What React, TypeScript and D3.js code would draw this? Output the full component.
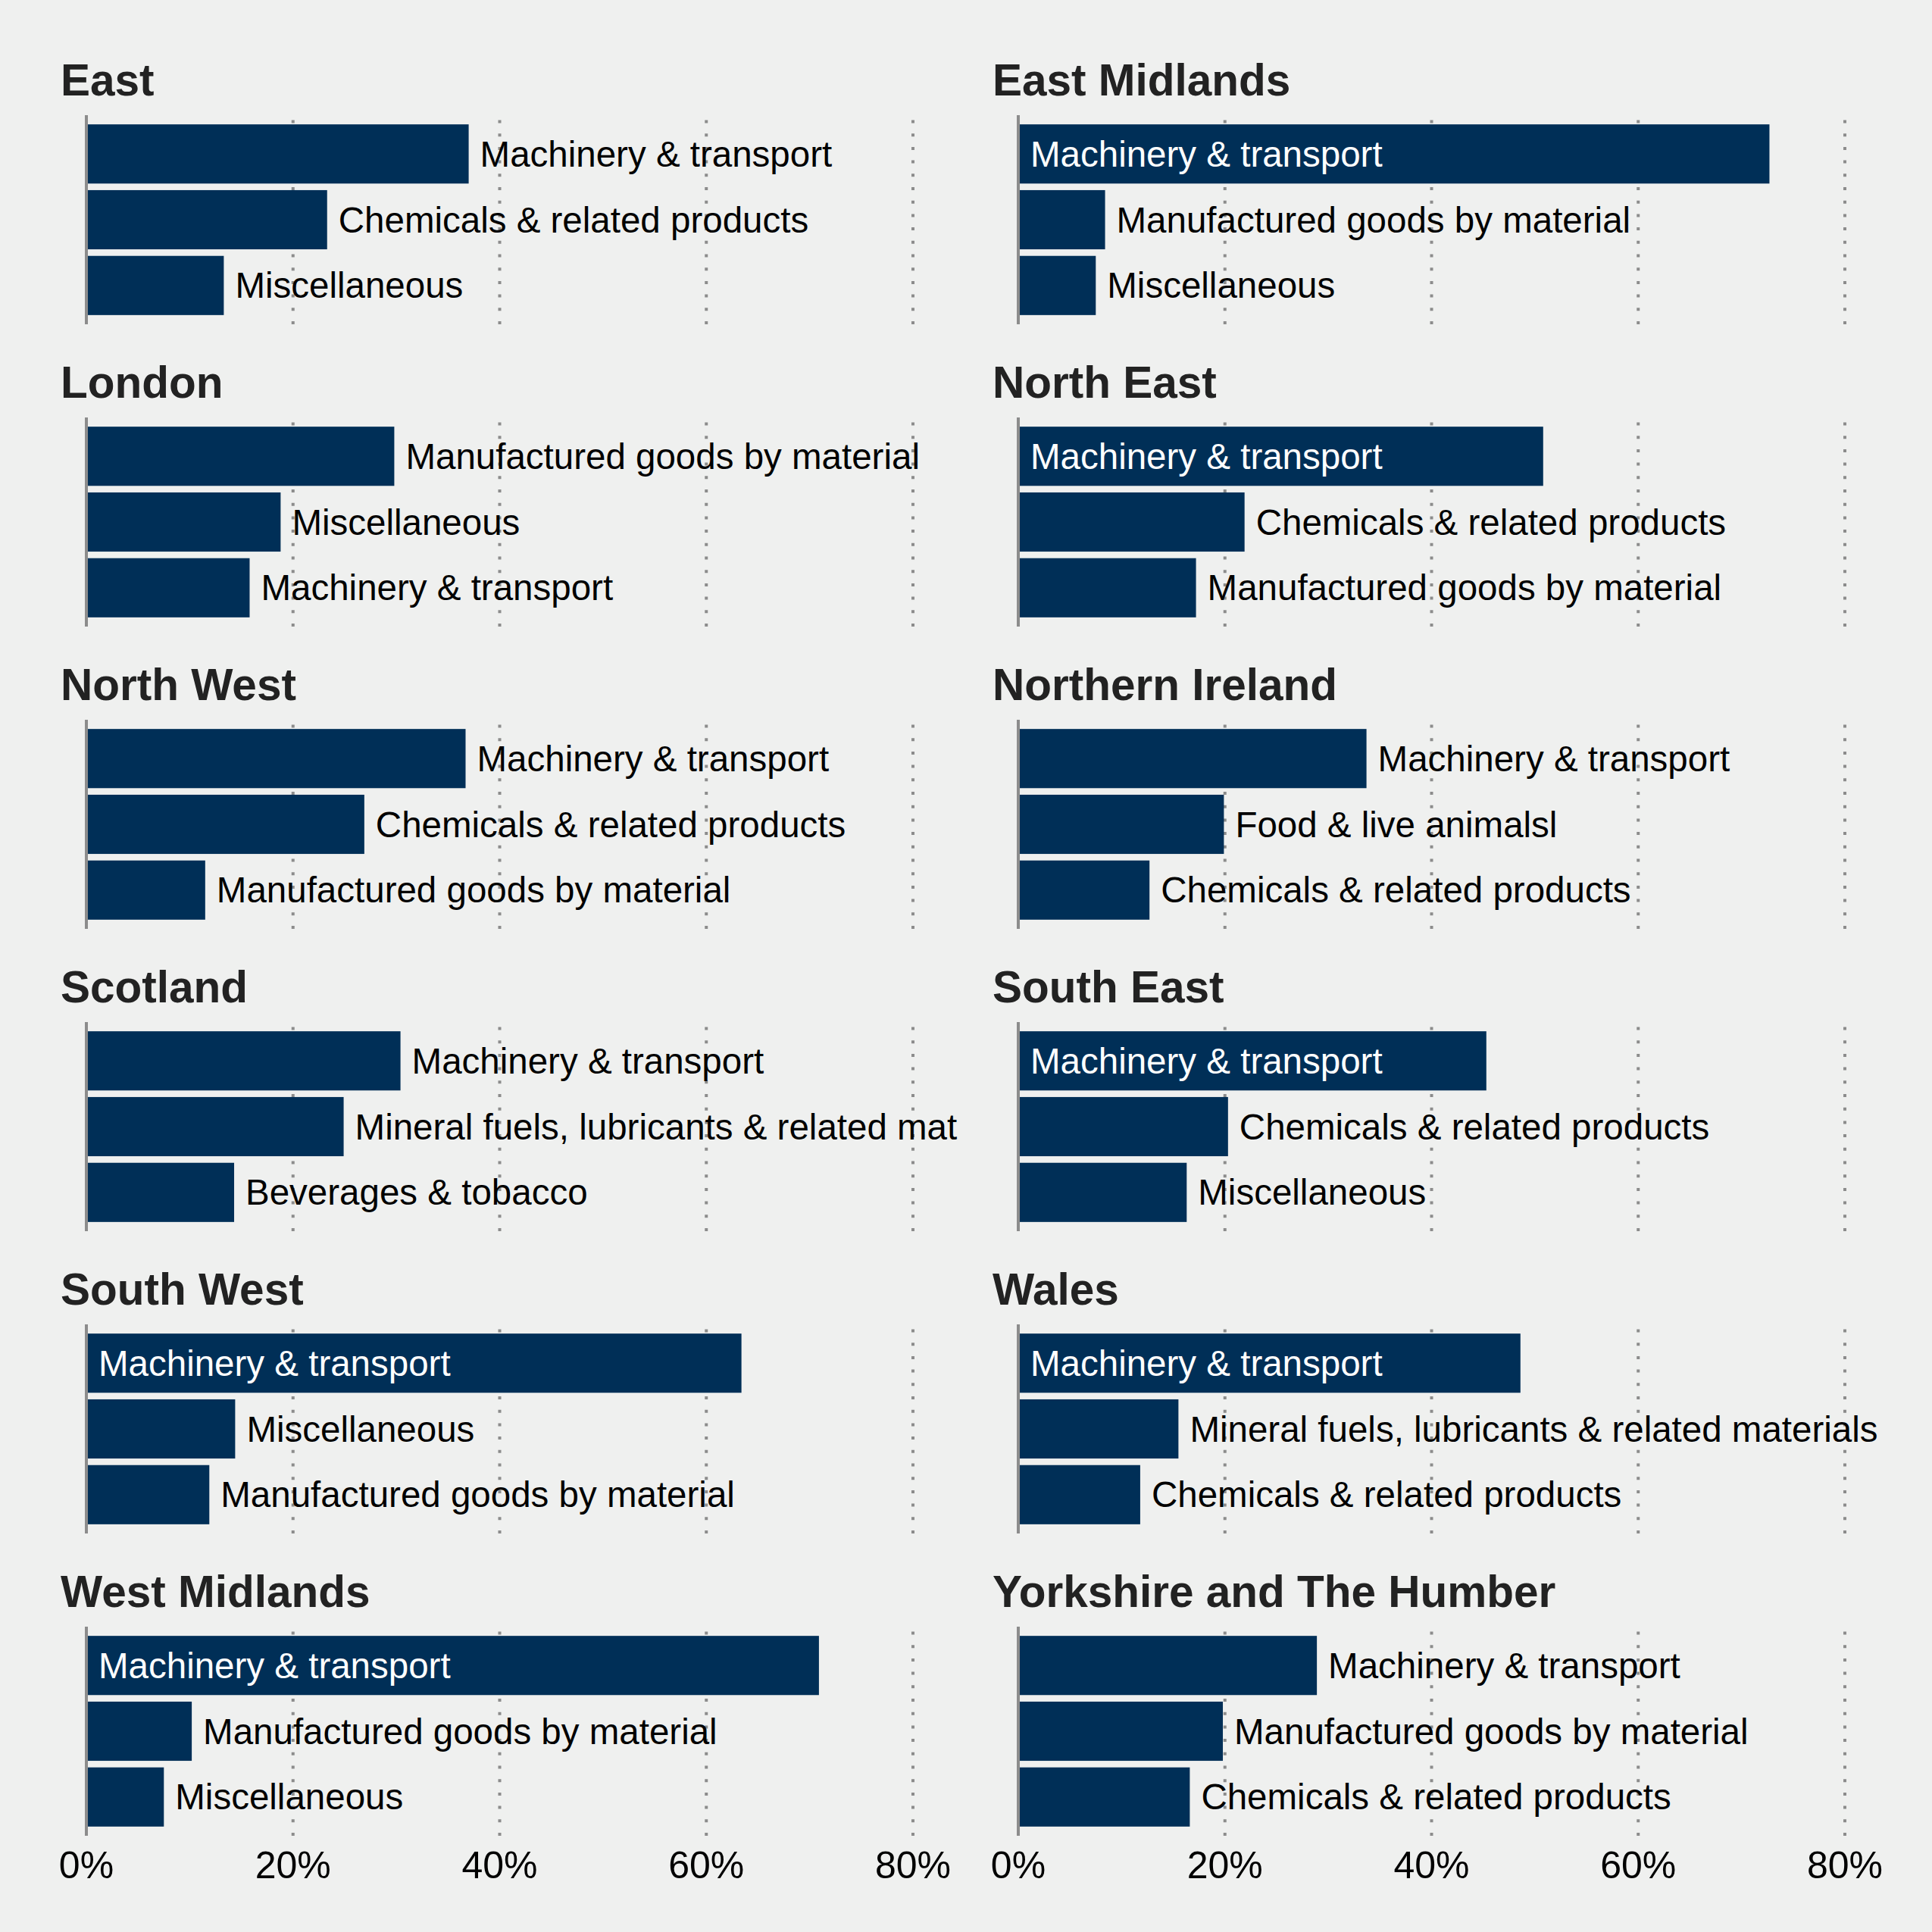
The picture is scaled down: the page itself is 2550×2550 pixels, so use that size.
import { useEffect } from 'react'
import * as d3 from 'd3'

const regions = [
  'East', 'East Midlands', 'London', 'North East', 'North West', 'Northern Ireland',
  'Scotland', 'South East', 'South West', 'Wales', 'West Midlands', 'Yorkshire and The Humber',
]

const goods = [
  ['Machinery & transport', 'Chemicals & related products', 'Miscellaneous'],
  ['Machinery & transport', 'Manufactured goods by material', 'Miscellaneous'],
  ['Manufactured goods by material', 'Miscellaneous', 'Machinery & transport'],
  ['Machinery & transport', 'Chemicals & related products', 'Manufactured goods by material'],
  ['Machinery & transport', 'Chemicals & related products', 'Manufactured goods by material'],
  ['Machinery & transport', 'Food & live animalsl', 'Chemicals & related products'],
  ['Machinery & transport', 'Mineral fuels, lubricants & related mat', 'Beverages & tobacco'],
  ['Machinery & transport', 'Chemicals & related products', 'Miscellaneous'],
  ['Machinery & transport', 'Miscellaneous', 'Manufactured goods by material'],
  ['Machinery & transport', 'Mineral fuels, lubricants & related materials', 'Chemicals & related products'],
  ['Machinery & transport', 'Manufactured goods by material', 'Miscellaneous'],
  ['Machinery & transport', 'Manufactured goods by material', 'Chemicals & related products'],
]

// share of region's exports, %
const shares = [
  [37.0, 23.3, 13.3],
  [72.7, 8.4, 7.5],
  [29.8, 18.8, 15.8],
  [50.8, 21.9, 17.2],
  [36.7, 26.9, 11.5],
  [33.7, 19.9, 12.7],
  [30.4, 24.9, 14.3],
  [45.3, 20.3, 16.3],
  [63.4, 14.4, 11.9],
  [48.6, 15.5, 11.8],
  [70.9, 10.2, 7.5],
  [28.9, 19.8, 16.6],
]

const xTicks = [0, 20, 40, 60, 80]

const W = 2550, H = 2550
const BG = '#eff0ef'
const BAR = '#002f57'
const GRID = '#8c8c8c'
const FONT = '"Liberation Sans", Arial, Helvetica, sans-serif'
const colX = [114, 1344]
const rowStep = 399
const panelTop = 152, panelH = 276
const inside = 40

export default function App() {
  useEffect(() => { document.body.style.margin = '0' }, [])

  const x = d3.scaleLinear().domain([0, 80]).range([0, 1091])
  const y = d3.scaleBand<number>().domain([0, 1, 2]).range([0, panelH]).paddingInner(0.1).paddingOuter(0.14)
  const nRows = Math.ceil(regions.length / 2)

  return (
    <svg width={W} height={H} style={{ display: 'block', background: BG }} fontFamily={FONT}>
      <rect width={W} height={H} fill={BG} />
      {regions.map((r, i) => {
        const col = i % 2, row = Math.floor(i / 2)
        const tx = colX[col], ty = panelTop + row * rowStep
        return (
          <g key={r} transform={`translate(${tx},${ty})`}>
            <text x={-34} y={-26} fontSize={58.5} fontWeight="bold" fill="#222">{r}</text>
            {xTicks.filter(t => t > 0).map(t => (
              <line key={t} x1={x(t)} x2={x(t)} y1={panelH} y2={0}
                stroke={GRID} strokeWidth={4} strokeDasharray="4 13.7" />
            ))}
            {shares[i].map((v, j) => {
              const by = y(j)!, bh = y.bandwidth()
              const isIn = v > inside
              return (
                <g key={j}>
                  <rect x={0} y={by} width={x(v)} height={bh} fill={BAR} />
                  <text x={isIn ? 16 : x(v) + 15} y={by + bh / 2} dy="0.35em"
                    fontSize={47.5} fill={isIn ? '#fff' : '#000'}>{goods[i][j]}</text>
                </g>
              )
            })}
            <line x1={0} x2={0} y1={0} y2={panelH} stroke={GRID} strokeWidth={4} />
            {row === nRows - 1 && xTicks.map(t => (
              <text key={t} x={x(t)} y={panelH + 56} textAnchor="middle" fontSize={50} fill="#000">{t}%</text>
            ))}
          </g>
        )
      })}
    </svg>
  )
}
